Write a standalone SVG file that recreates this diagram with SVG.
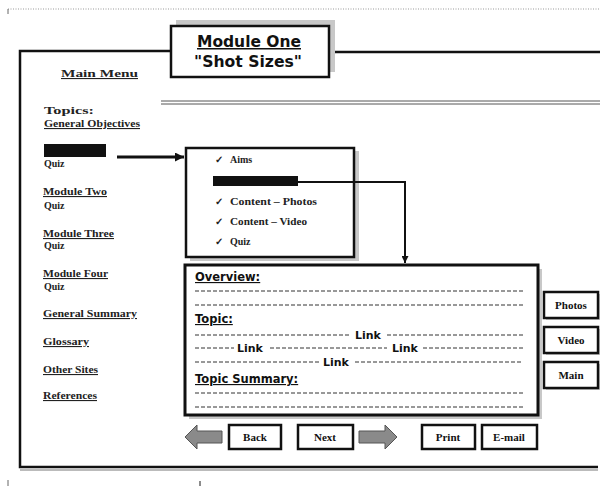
<svg xmlns="http://www.w3.org/2000/svg" width="605" height="486" viewBox="0 0 605 486">
<defs>
<style>
.frame{fill:none;stroke:#111;stroke-width:2.5}
.box{fill:#fff;stroke:#111;stroke-width:2.5}
.shadow{fill:#c8c8c8}
.menu{font-family:"Liberation Serif","Times New Roman",serif;font-weight:bold;font-size:11px;fill:#222;text-decoration:underline}
.plain{font-family:"Liberation Serif","Times New Roman",serif;font-weight:bold;font-size:10px;fill:#222}
.sans{font-family:"DejaVu Sans",Verdana,sans-serif;font-weight:bold;fill:#111}
.dash{stroke:#333;stroke-width:1;stroke-dasharray:4 2;fill:none}
.btn{font-family:"Liberation Serif","Times New Roman",serif;font-weight:bold;font-size:11px;fill:#111;text-anchor:middle}
.conn{fill:none;stroke:#111}
.garrow{fill:#8a8a8a;stroke:#555;stroke-width:1}
</style>
<marker id="ah" viewBox="0 0 10 10" refX="10" refY="5" markerWidth="10" markerHeight="9" markerUnits="userSpaceOnUse" orient="auto">
<path d="M0,0 L10,5 L0,10 z" fill="#111"/>
</marker>
<marker id="ah2" viewBox="0 0 10 10" refX="10" refY="5" markerWidth="7" markerHeight="7" markerUnits="userSpaceOnUse" orient="auto">
<path d="M0,0 L10,5 L0,10 z" fill="#111"/>
</marker>
</defs>
<rect width="605" height="486" fill="#fff"/>

<g id="scan-marks">
<line x1="8" y1="9" x2="600" y2="9" stroke="#999" stroke-width="1" stroke-dasharray="1 1.5"/>
<line x1="8" y1="9" x2="8" y2="14" stroke="#666" stroke-width="1"/>
<line x1="8" y1="480" x2="8" y2="486" stroke="#666" stroke-width="1"/>
<line x1="200" y1="481" x2="200" y2="486" stroke="#666" stroke-width="1.5"/>
</g>

<g id="page-frame">
<line x1="20" y1="470" x2="598" y2="470" stroke="#bbb" stroke-width="2"/>
<path class="frame" d="M170,51 H20 V467 H598"/>
<line class="frame" x1="330" y1="52" x2="600" y2="52"/>
<line x1="161" y1="101" x2="600" y2="101" stroke="#555" stroke-width="1"/>
<line x1="161" y1="104" x2="600" y2="104" stroke="#555" stroke-width="1"/>
</g>

<g id="title">
<rect class="shadow" x="176" y="20" width="159" height="52"/>
<rect class="box" x="171" y="26" width="158" height="51"/>
<text class="sans" x="249" y="47" font-size="15" text-anchor="middle" text-decoration="underline" textLength="104" lengthAdjust="spacingAndGlyphs">Module One</text>
<text class="sans" x="248" y="67" font-size="15" text-anchor="middle" textLength="108" lengthAdjust="spacingAndGlyphs">"Shot Sizes"</text>
</g>

<g id="main-menu">
<text class="menu" x="61" y="77" font-size="13" textLength="77" lengthAdjust="spacingAndGlyphs">Main Menu</text>
<text class="plain" x="44" y="114" font-size="15" textLength="50" lengthAdjust="spacingAndGlyphs">Topics:</text>
<text class="menu" x="44" y="127" font-size="10" textLength="96" lengthAdjust="spacingAndGlyphs">General Objectives</text>
<rect x="44" y="144" width="62" height="13" fill="#111"/>
<text class="plain" x="44" y="167">Quiz</text>
<text class="menu" x="43" y="195" textLength="64" lengthAdjust="spacingAndGlyphs">Module Two</text>
<text class="plain" x="44" y="209">Quiz</text>
<text class="menu" x="43" y="237" textLength="71" lengthAdjust="spacingAndGlyphs">Module Three</text>
<text class="plain" x="44" y="249">Quiz</text>
<text class="menu" x="43" y="277" textLength="65" lengthAdjust="spacingAndGlyphs">Module Four</text>
<text class="plain" x="44" y="290">Quiz</text>
<text class="menu" x="43" y="317" textLength="94" lengthAdjust="spacingAndGlyphs">General Summary</text>
<text class="menu" x="43" y="345" textLength="46" lengthAdjust="spacingAndGlyphs">Glossary</text>
<text class="menu" x="43" y="373" textLength="55" lengthAdjust="spacingAndGlyphs">Other Sites</text>
<text class="menu" x="43" y="399" textLength="54" lengthAdjust="spacingAndGlyphs">References</text>
</g>

<g id="submenu">
<rect class="shadow" x="190" y="151" width="169" height="110"/>
<rect class="box" x="186" y="148" width="168" height="109"/>
<text class="plain" x="215" y="163" font-weight="normal">✓</text>
<text class="plain" x="230" y="163">Aims</text>
<rect x="213" y="176" width="85" height="10" fill="#111"/>
<text class="plain" x="215" y="205" font-weight="normal">✓</text>
<text class="plain" x="230" y="205" textLength="87" lengthAdjust="spacingAndGlyphs">Content – Photos</text>
<text class="plain" x="215" y="225" font-weight="normal">✓</text>
<text class="plain" x="230" y="225" textLength="77" lengthAdjust="spacingAndGlyphs">Content – Video</text>
<text class="plain" x="215" y="245" font-weight="normal">✓</text>
<text class="plain" x="230" y="245">Quiz</text>
</g>

<g id="content-page">
<rect class="shadow" x="189" y="269" width="353" height="150"/>
<rect x="185" y="265" width="353" height="150" fill="#fff" stroke="#111" stroke-width="3"/>
<text class="sans" x="195" y="281" font-size="11.5" text-decoration="underline">Overview:</text>
<line class="dash" x1="195" y1="291" x2="523" y2="291"/>
<line class="dash" x1="195" y1="305" x2="523" y2="305"/>
<text class="sans" x="195" y="323" font-size="11.5" text-decoration="underline">Topic:</text>
<line class="dash" x1="195" y1="335" x2="351" y2="335"/>
<text class="sans" x="355" y="339" font-size="11">Link</text>
<line class="dash" x1="387" y1="335" x2="523" y2="335"/>
<line class="dash" x1="195" y1="348" x2="234" y2="348"/>
<text class="sans" x="237" y="352" font-size="11">Link</text>
<line class="dash" x1="270" y1="348" x2="387" y2="348"/>
<text class="sans" x="392" y="352" font-size="11">Link</text>
<line class="dash" x1="423" y1="348" x2="523" y2="348"/>
<line class="dash" x1="195" y1="362" x2="321" y2="362"/>
<text class="sans" x="323" y="366" font-size="11">Link</text>
<line class="dash" x1="355" y1="362" x2="523" y2="362"/>
<text class="sans" x="195" y="383" font-size="11.5" text-decoration="underline">Topic Summary:</text>
<line class="dash" x1="195" y1="393" x2="523" y2="393"/>
<line class="dash" x1="195" y1="407" x2="523" y2="407"/>
</g>

<g id="btn-photos">
<rect class="shadow" x="546" y="294" width="54" height="26"/>
<rect class="box" x="544" y="292" width="54" height="26"/>
<text class="btn" x="571" y="309" font-size="10">Photos</text>
</g>
<g id="btn-video">
<rect class="shadow" x="546" y="329" width="54" height="26"/>
<rect class="box" x="544" y="327" width="54" height="26"/>
<text class="btn" x="571" y="344">Video</text>
</g>
<g id="btn-main">
<rect class="shadow" x="546" y="364" width="54" height="26"/>
<rect class="box" x="544" y="362" width="54" height="26"/>
<text class="btn" x="571" y="379">Main</text>
</g>

<g id="arrow-back">
<path class="garrow" d="M185,437 L197,425 L197,431 L222,431 L222,443 L197,443 L197,449 Z"/>
</g>
<g id="btn-back">
<rect class="box" x="229" y="425" width="52" height="24"/>
<text class="btn" x="255" y="441">Back</text>
</g>
<g id="btn-next">
<rect class="box" x="298" y="425" width="55" height="24"/>
<text class="btn" x="325" y="441">Next</text>
</g>
<g id="arrow-next">
<path class="garrow" d="M397,437 L385,425 L385,431 L359,431 L359,443 L385,443 L385,449 Z"/>
</g>
<g id="btn-print">
<rect class="box" x="422" y="425" width="53" height="24"/>
<text class="btn" x="448" y="441">Print</text>
</g>
<g id="btn-email">
<rect class="box" x="482" y="425" width="55" height="24"/>
<text class="btn" x="509" y="441">E-mail</text>
</g>

<g id="connectors">
<line class="conn" x1="117" y1="157" x2="184" y2="157" stroke-width="3" marker-end="url(#ah)"/>
<path class="conn" d="M298,182 H405 V263" stroke-width="2" marker-end="url(#ah2)"/>
</g>
</svg>
